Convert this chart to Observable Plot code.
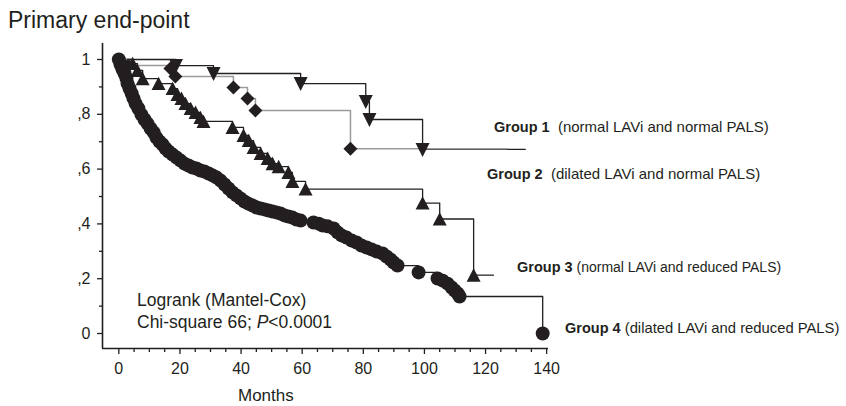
<!DOCTYPE html>
<html>
<head>
<meta charset="utf-8">
<script src="https://cdn.jsdelivr.net/npm/d3@7"></script>
<script src="https://cdn.jsdelivr.net/npm/@observablehq/plot@0.6"></script>
<style>
  html, body { margin: 0; padding: 0; background: #fff; }
  #chart { width: 846px; height: 406px; }
</style>
</head>
<body>
<div id="chart"></div>
<script>
// ---------- data ----------
// Group 1: normal LAVi and normal PALS (black line, down triangles)
const g1Months = [18.7, 31.0, 59.5, 80.8, 82.0, 99.4];
const g1Surv   = [0.978, 0.949, 0.912, 0.847, 0.781, 0.672];
const g1End = 133;
// Group 2: dilated LAVi and normal PALS (grey line, diamonds)
const g2Months = [3.0, 16.9, 18.5, 37.5, 42.1, 44.7, 75.8];
const g2Surv   = [0.978, 0.967, 0.938, 0.898, 0.858, 0.814, 0.674];
const g2End = 127;
// Group 3: normal LAVi and reduced PALS (black line, up triangles)
const g3Months = [4.5, 6.1, 7.8, 13.0, 17.6, 19.2, 20.5, 21.8, 23.5, 25.1, 26.7, 27.7,
  37.2, 40.8, 42.5, 44.1, 46.4, 48.7, 50.3, 52.3, 55.5, 56.8, 61.1, 99.4, 105.0, 116.1];
const g3Surv   = [0.985, 0.96, 0.93, 0.912, 0.894, 0.872, 0.858, 0.839, 0.821, 0.807, 0.788, 0.774,
  0.752, 0.723, 0.704, 0.679, 0.657, 0.639, 0.62, 0.609, 0.588, 0.555, 0.527, 0.476, 0.418, 0.213];
const g3End = 122.6;
// Group 4: dilated LAVi and reduced PALS (black line, circles)
const g4Months = [0.56, 1.2, 1.87, 2.5, 2.85, 3.5, 4.2, 4.8, 5.5, 6.4, 7.4, 8.4, 9.4, 10.4, 11.4, 12.3,
  13.3, 14.3, 15.3, 16.3, 17.6, 18.9, 20.2, 21.5, 22.8, 24.1, 25.4, 26.7, 28.0, 29.4, 30.7, 32.0,
  33.3, 34.6, 35.9, 37.2, 38.5, 39.8, 41.1, 42.4, 43.8, 45.1, 46.4, 47.7, 49.0, 50.3, 51.6, 52.9,
  54.2, 55.5, 56.8, 58.1, 59.5, 63.7, 65.4, 66.7, 68.3, 70.3, 71.6, 72.9, 74.5, 76.2, 77.8, 79.4,
  81.1, 82.7, 84.4, 86.3, 87.6, 88.9, 89.9, 91.2, 98.1, 104.3, 106.0, 107.6, 108.9, 109.9, 110.9,
  111.5, 138.7];
const g4Surv   = [0.982, 0.964, 0.949, 0.931, 0.912, 0.894, 0.876, 0.858, 0.839, 0.821, 0.799, 0.781,
  0.766, 0.748, 0.734, 0.715, 0.701, 0.69, 0.675, 0.664, 0.653, 0.642, 0.631, 0.62, 0.613, 0.606,
  0.602, 0.595, 0.591, 0.584, 0.577, 0.569, 0.558, 0.544, 0.529, 0.515, 0.504, 0.493, 0.482, 0.474,
  0.467, 0.46, 0.456, 0.453, 0.449, 0.445, 0.442, 0.438, 0.431, 0.427, 0.423, 0.416, 0.412, 0.405,
  0.401, 0.394, 0.391, 0.383, 0.369, 0.358, 0.35, 0.339, 0.332, 0.321, 0.314, 0.307, 0.299, 0.292,
  0.281, 0.27, 0.259, 0.248, 0.223, 0.201, 0.193, 0.182, 0.168, 0.157, 0.146, 0.135, 0.0];
const g4End = null;

const xMajor = [0, 20, 40, 60, 80, 100, 120, 140];
const xMinor = [5, 10, 15, 25, 30, 35, 45, 50, 55, 65, 70, 75, 85, 90, 95, 105, 110, 115, 125, 130, 135];
const yMajor = [0, 0.2, 0.4, 0.6, 0.8, 1];
const yMajorLabels = ["0", ",2", ",4", ",6", ",8", "1"];
const yMinor = [0.1, 0.3, 0.5, 0.7, 0.9];

const groupLabels = ["Group 1", "Group 2", "Group 3", "Group 4"];
const groupNotes = ["(normal LAVi and normal PALS)", "(dilated LAVi and normal PALS)",
  "(normal LAVi and reduced PALS)", "(dilated LAVi and reduced PALS)"];

// ---------- helpers ----------
function curve(months, surv, end) {
  const rows = [{t: 0, s: 1}];
  months.forEach((t, i) => rows.push({t, s: surv[i]}));
  if (end != null) rows.push({t: end, s: surv[surv.length - 1]});
  return rows;
}
function pts(months, surv) { return months.map((t, i) => ({t, s: surv[i]})); }

const triUp = {draw(c) { c.moveTo(0, -6.8); c.lineTo(7, 6.5); c.lineTo(-7, 6.5); c.closePath(); }};
const triDown = {draw(c) { c.moveTo(0, 7.5); c.lineTo(7, -6.5); c.lineTo(-7, -6.5); c.closePath(); }};
const diamond = {draw(c) { c.moveTo(0, -7); c.lineTo(7, 0); c.lineTo(0, 7); c.lineTo(-7, 0); c.closePath(); }};
const disc = {draw(c) { c.moveTo(7, 0); c.arc(0, 0, 7, 0, 2 * Math.PI); c.closePath(); }};

const INK = "#231f20";
const GREY = "#9b9b9b";
const FONT = "'Liberation Sans', Arial, Helvetica, sans-serif";

const plot = Plot.plot({
  width: 846,
  height: 406,
  marginLeft: 102,
  marginRight: 298,
  marginTop: 43,
  marginBottom: 58,
  x: {domain: [-5.34, 140.6]},
  y: {domain: [-0.0547, 1.0584]},
  style: {fontFamily: FONT, fontSize: "16px", color: INK, background: "white", overflow: "visible"},
  marks: [
    Plot.axisX({ticks: xMinor, tickSize: 4, tickFormat: () => "", label: null, stroke: INK, strokeWidth: 1.3}),
    Plot.axisX({ticks: xMajor, tickSize: 6, tickPadding: 8, tickFormat: d => String(d), label: null,
      stroke: INK, strokeWidth: 1.3, fill: INK, fontSize: 16}),
    Plot.axisY({ticks: yMinor, tickSize: 3, tickFormat: () => "", label: null, stroke: INK, strokeWidth: 1.3}),
    Plot.axisY({ticks: yMajor, tickSize: 5, tickPadding: 7,
      tickFormat: d => yMajorLabels[yMajor.findIndex(v => Math.abs(v - d) < 1e-9)], label: null,
      stroke: INK, strokeWidth: 1.3, fill: INK, fontSize: 16}),
    Plot.ruleX([-5.34], {stroke: INK, strokeWidth: 1.6}),
    Plot.ruleY([-0.0547], {stroke: INK, strokeWidth: 1.6}),
    // survival curves
    Plot.line(curve(g4Months, g4Surv, g4End), {x: "t", y: "s", curve: "step-after", stroke: INK, strokeWidth: 1.3}),
    Plot.line(curve(g3Months, g3Surv, g3End), {x: "t", y: "s", curve: "step-after", stroke: INK, strokeWidth: 1.3}),
    Plot.line(curve(g1Months, g1Surv, g1End), {x: "t", y: "s", curve: "step-after", stroke: INK, strokeWidth: 1.3}),
    Plot.line(curve(g2Months, g2Surv, g2End), {x: "t", y: "s", curve: "step-after", stroke: GREY, strokeWidth: 1.5}),
    // markers
    Plot.dot([{t: 0, s: 1}, ...pts(g4Months, g4Surv)], {x: "t", y: "s", symbol: disc, r: 7, fill: INK, stroke: "none"}),
    Plot.dot(pts(g3Months, g3Surv), {x: "t", y: "s", symbol: triUp, r: 7, fill: INK, stroke: "none"}),
    Plot.dot(pts(g2Months, g2Surv), {x: "t", y: "s", symbol: diamond, r: 7, fill: INK, stroke: "none"}),
    Plot.dot(pts(g1Months, g1Surv), {x: "t", y: "s", symbol: triDown, r: 7, fill: INK, stroke: "none"})
  ]
});

document.getElementById("chart").appendChild(plot);

// ---------- annotations ----------
const svg = d3.select(plot);
const ann = svg.append("g").attr("fill", INK).attr("font-family", FONT).attr("text-anchor", "start");

ann.append("text").attr("x", 8).attr("y", 28).attr("font-size", 23).text("Primary end-point");
ann.append("text").attr("x", 238).attr("y", 401).attr("font-size", 17).text("Months");

ann.append("text").attr("x", 137).attr("y", 306).attr("font-size", 17.5).text("Logrank (Mantel-Cox)");
const chi = ann.append("text").attr("x", 137).attr("y", 328).attr("font-size", 17.5);
chi.append("tspan").text("Chi-square 66; ");
chi.append("tspan").attr("font-style", "italic").text("P");
chi.append("tspan").text("<0.0001");

// [x, baseline, gap, size of note]
const labelPos = [[494, 132, "  ", 15], [487, 179, "  ", 15], [517, 272, " ", 14], [565, 333, " ", 14.8]];
labelPos.forEach(([x, y, gap, fs], i) => {
  const t = ann.append("text").attr("x", x).attr("y", y).attr("font-size", 14.5).attr("xml:space", "preserve");
  t.append("tspan").attr("font-weight", "bold").text(groupLabels[i]);
  t.append("tspan").attr("font-size", fs).text(gap + groupNotes[i]);
});
</script>
</body>
</html>
